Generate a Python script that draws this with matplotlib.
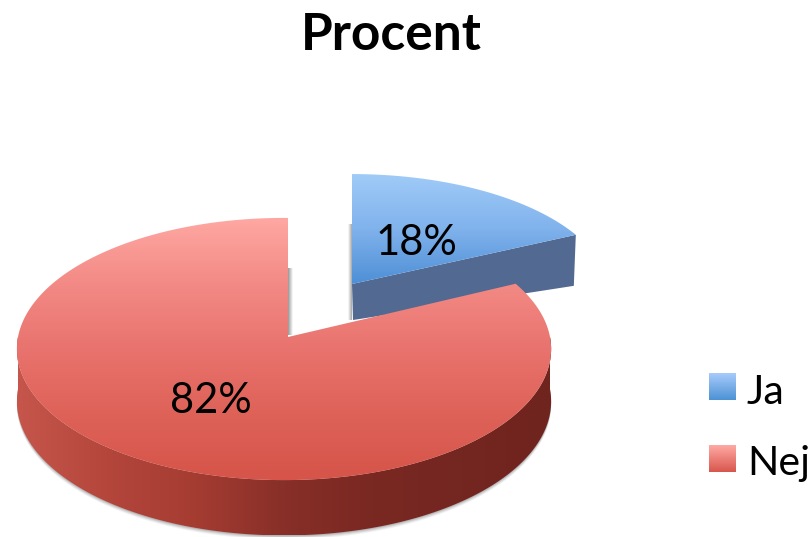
import numpy as np
import matplotlib
matplotlib.use('Agg')
import matplotlib.pyplot as plt
from matplotlib.colors import LinearSegmentedColormap
from matplotlib.patches import Polygon

title = 'Procent'
labels = ['Ja', 'Nej']
values = [18, 82]

plt.rcParams['font.family'] = ['Lato', 'DejaVu Sans']

fig = plt.figure(figsize=(8.12, 5.37), dpi=100)
ax = fig.add_axes([0, 0, 1, 1])
ax.axis('off')


def rim(cx, cy, rx, ry, ang, k=0.0916):
    # circle seen in perspective, ang in degrees clockwise from 12 o'clock
    a = np.radians(ang)
    d = 1 + k*np.cos(a)
    return np.column_stack([cx + rx*np.sin(a)/d, cy - ry*np.cos(a)/d])


def grad(verts, colors, horizontal=False, zorder=2):
    verts = np.array(verts)
    x0, x1 = verts[:, 0].min(), verts[:, 0].max()
    y0, y1 = verts[:, 1].min(), verts[:, 1].max()
    cmap = LinearSegmentedColormap.from_list('g', [np.array(c)/255 for c in colors])
    g = np.linspace(0, 1, 256)
    g = g[None, :] if horizontal else g[:, None]
    im = ax.imshow(g, cmap=cmap, extent=[x0, x1, y1, y0], aspect='auto', zorder=zorder, vmin=0, vmax=1)
    im.set_clip_path(Polygon(verts, closed=True, transform=ax.transData))


split = values[0]/sum(values)*360

# blue slice, pulled out
blue_top = rim(352, 284, 257, 120, np.linspace(0, split, 60))
apex_blue = np.array([352, 284])
edge_blue = blue_top[-1]
wall_blue = [apex_blue, edge_blue, edge_blue + [-2, 51], apex_blue + [1, 36]]
ax.add_patch(Polygon(wall_blue, closed=True, fc=(82/255, 105/255, 145/255), ec='none', zorder=2))
grad(np.vstack([[apex_blue], blue_top]), [(160, 203, 248), (128, 178, 236), (78, 143, 214)], zorder=3)

# little shadows next to the cut edges
grad([[348, 224], [352, 224], [352, 320], [348, 320]], [(255, 255, 255), (165, 165, 165)], horizontal=True, zorder=1)
grad([[288, 268], [293, 268], [293, 335], [288, 335]], [(150, 150, 150), (255, 255, 255)], horizontal=True, zorder=1)

# red slice, wall first
ang_wall = np.linspace(90, 270, 200)
top_edge = rim(284, 337, 266, 130, ang_wall)
low_edge = rim(284, 389, 266, 133, ang_wall)
for off, a in [(4, 0.10), (3, 0.14), (2, 0.2), (1, 0.3)]:
    ax.add_patch(Polygon(np.vstack([top_edge, (low_edge + [0, off])[::-1]]), closed=True, fc='gray', ec='none', alpha=a, zorder=4))
grad(np.vstack([top_edge, low_edge[::-1]])[::-1],
     [(198, 86, 76), (180, 70, 60), (165, 60, 50), (135, 47, 40), (122, 40, 34), (116, 38, 32), (112, 36, 30)],
     horizontal=True, zorder=5)

red_top = rim(284, 337, 266, 130, np.linspace(split, 360, 300))
grad(np.vstack([[[288, 337]], [[288, 218]], red_top[::-1]]),
     [(255, 168, 163), (243, 138, 133), (233, 115, 110), (222, 98, 88), (214, 84, 74)], zorder=6)

ax.text(391, 35, title, ha='center', va='center', fontsize=37, fontweight='bold', zorder=10)
ax.text(416, 243, f'{values[0]}%', ha='center', va='center', fontsize=30, zorder=10)
ax.text(211, 401, f'{values[1]}%', ha='center', va='center', fontsize=30, zorder=10)

# legend
leg_cols = [[(168, 203, 252), (76, 146, 212)], [(255, 170, 165), (216, 86, 76)]]
for i, lab in enumerate(labels):
    y = 373 + i*72
    grad([[709, y], [736, y], [736, y+27], [709, y+27]], leg_cols[i], zorder=7)
    ax.text(747, y+19, lab, ha='left', va='center', fontsize=29.5, zorder=10)

ax.set_xlim(0, 812)
ax.set_ylim(537, 0)
fig.savefig('out.png', dpi=100)
